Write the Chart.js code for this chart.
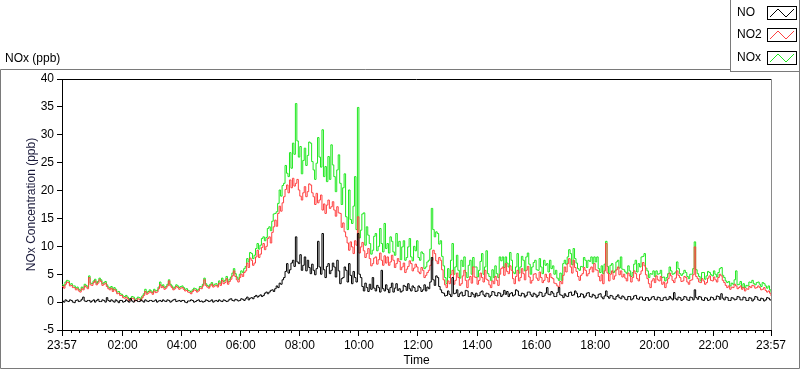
<!DOCTYPE html>
<html>
<head>
<meta charset="utf-8">
<title>NOx (ppb)</title>
<script src="https://cdn.jsdelivr.net/npm/chart.js@4.4.0/dist/chart.umd.min.js"></script>
<style>
body { margin: 0; background: #ffffff; }
</style>
</head>
<body>
<canvas id="noxchart" width="800" height="369"></canvas>
<script>

// minutes after 23:57 for the labelled ticks
var tickMinutes = [0, 123, 243, 363, 483, 603, 723, 843, 963, 1083, 1203, 1323, 1440];
var tickLabels  = ["23:57", "02:00", "04:00", "06:00", "08:00", "10:00", "12:00",
                   "14:00", "16:00", "18:00", "20:00", "22:00", "23:57"];

var seriesNames = ["NO", "NO2", "NOx"];

// one reading every 3 minutes (20 per row = one hour)
var NO = [
        0.2, 0.0, 0.4, 0.2, 0.1, 0.4, 0.3, 0.0, -0.1, 0.3, 0.4, 0.1, 0.2, 0.5, 0.9, 0.2, 0.1, 0.3, 0.3, 0.0,
        0.2, 0.4, 0.0, 0.3, 0.5, 0.1, 0.1, 0.4, 0.3, 0.0, 0.8, 0.3, 0.1, 0.4, 0.2, 0.0, 0.4, 0.2, -0.1, 0.3,
        0.3, 0.0, 0.1, 0.4, 0.2, 0.0, 0.6, 0.2, 0.0, 0.3, 0.3, 0.1, 0.1, 0.4, 0.2, 0.0, 0.4, 0.2, 0.1, 0.3,
        0.3, 0.1, 0.2, 0.4, 0.0, 0.2, 0.3, 0.1, 0.4, 0.2, 0.1, 0.4, 0.3, 0.0, 0.2, 0.4, 0.5, 0.1, 0.2, 0.3,
        0.1, 0.3, 0.3, 0.0, -0.1, 0.2, 0.2, 0.4, 0.3, 0.0, 0.1, 0.3, 0.4, 0.1, 0.2, 0.0, 0.1, 0.4, 0.3, 0.1,
        0.2, 0.4, 0.0, 0.2, 0.3, 0.1, 0.4, 0.2, 0.1, 0.4, 0.3, 0.1, 0.2, 0.5, 0.6, 0.3, 0.2, 0.5, 0.4, 0.2,
        0.3, 0.6, 0.5, 0.3, 0.6, 0.9, 0.4, 0.7, 0.8, 0.6, 1.0, 1.2, 0.9, 1.1, 1.3, 1.0, 1.2, 1.6, 1.8, 1.5,
        1.8, 2.1, 2.2, 1.9, 2.4, 2.9, 2.6, 3.4, 3.2, 4.0, 4.4, 5.5, 6.9, 5.2, 5.8, 7.0, 7.5, 6.4, 11.7, 7.2,
        6.9, 8.5, 5.7, 6.6, 8.1, 5.6, 7.5, 6.2, 5.1, 6.8, 5.7, 4.9, 6.0, 10.9, 6.3, 5.0, 12.3, 5.8, 4.4, 6.4,
        6.9, 5.1, 5.7, 7.0, 6.3, 4.5, 7.5, 5.6, 3.3, 4.2, 4.4, 6.3, 5.7, 3.6, 6.9, 4.8, 3.3, 5.5, 4.4, 3.6,
        12.3, 5.0, 4.4, 2.8, 2.0, 3.4, 2.6, 1.9, 3.2, 2.3, 4.4, 2.5, 2.0, 3.0, 2.6, 1.8, 5.7, 2.4, 2.0, 3.1,
        2.3, 1.7, 2.6, 3.4, 1.8, 2.5, 3.3, 2.1, 2.4, 1.8, 2.0, 3.0, 2.8, 2.1, 3.3, 2.4, 2.0, 2.9, 2.6, 1.9,
        2.0, 2.9, 2.6, 1.9, 2.2, 3.1, 2.0, 2.7, 2.4, 3.6, 8.0, 4.0, 3.0, 4.7, 4.4, 2.8, 2.2, 1.7, 1.6, 1.1,
        1.2, 2.0, 1.4, 1.0, 4.4, 1.5, 1.6, 2.2, 1.0, 1.5, 1.8, 1.1, 1.2, 2.1, 2.0, 1.0, 1.0, 1.7, 1.4, 0.9,
        1.6, 1.1, 1.2, 1.8, 2.0, 1.3, 1.0, 1.6, 1.5, 0.9, 1.2, 1.9, 1.8, 1.2, 1.1, 1.7, 1.6, 1.0, 1.3, 2.1,
        1.4, 1.9, 1.0, 1.5, 1.7, 1.1, 1.3, 2.2, 2.0, 1.2, 1.1, 1.6, 1.5, 0.9, 1.2, 1.8, 1.8, 1.3, 1.0, 1.6,
        1.4, 0.9, 1.2, 1.8, 1.7, 1.0, 1.1, 1.6, 2.6, 1.4, 1.3, 1.9, 1.6, 1.0, 1.0, 1.7, 2.6, 1.3, 1.2, 0.8,
        1.5, 1.1, 1.0, 1.7, 1.8, 1.2, 1.3, 2.0, 1.6, 0.9, 1.0, 1.5, 1.4, 0.8, 1.1, 1.6, 1.7, 1.0, 0.9, 1.4,
        1.2, 0.7, 0.8, 1.4, 1.5, 0.9, 0.6, 1.1, 2.0, 1.0, 0.7, 1.2, 1.1, 0.6, 0.5, 1.0, 1.3, 0.8, 0.6, 1.1,
        0.9, 0.5, 0.4, 1.0, 1.0, 0.4, 0.6, 1.1, 1.2, 0.6, 0.5, 0.9, 0.9, 0.4, 0.3, 0.8, 0.8, 0.3, 0.5, 0.9,
        1.0, 0.5, 0.4, 0.9, 0.8, 0.3, 0.3, 0.8, 0.9, 0.4, 0.5, 1.0, 0.7, 0.4, 1.7, 0.6, 0.4, 0.9, 0.8, 0.3,
        0.5, 1.0, 0.9, 0.4, 0.3, 0.9, 0.8, 0.4, 2.2, 0.8, 0.5, 1.0, 0.9, 0.4, 0.3, 0.8, 0.7, 0.3, 0.4, 0.9,
        0.8, 0.4, 0.5, 1.1, 1.0, 0.5, 1.5, 0.7, 0.4, 0.9, 0.8, 0.3, 0.3, 0.8, 0.7, 0.4, 0.5, 1.0, 0.9, 0.4,
        0.4, 0.9, 0.8, 0.3, 0.3, 0.8, 0.7, 0.2, 0.5, 1.0, 0.9, 0.4, 0.3, 0.7, 0.6, 0.2, 0.4, 0.8, 0.7, 0.4,
        0.3
];

var NO2 = [
        2.8, 2.5, 3.2, 3.6, 3.5, 2.9, 3.0, 2.6, 2.6, 2.2, 2.4, 2.0, 1.8, 2.4, 2.2, 2.9, 2.7, 2.4, 4.4, 3.1,
        3.0, 3.5, 3.8, 3.1, 3.4, 4.0, 3.7, 3.0, 3.2, 3.4, 2.8, 2.4, 2.2, 2.5, 1.9, 2.3, 2.0, 1.5, 1.6, 1.2,
        1.2, 0.8, 0.7, 0.9, 0.6, 0.3, 0.4, 0.7, 0.6, 0.2, 0.3, 0.6, 0.5, 0.3, 0.8, 1.2, 1.9, 1.4, 1.6, 1.9,
        1.7, 1.4, 2.0, 1.7, 1.8, 2.4, 3.1, 2.6, 2.8, 2.3, 2.5, 2.9, 3.8, 2.9, 2.6, 2.2, 2.4, 2.8, 2.6, 2.3,
        2.5, 2.6, 2.3, 2.0, 2.1, 1.8, 1.7, 1.5, 1.9, 2.2, 2.1, 1.8, 2.0, 2.5, 2.4, 2.9, 4.0, 3.0, 2.7, 2.5,
        2.9, 3.2, 2.7, 2.9, 3.0, 2.7, 3.4, 3.0, 3.9, 3.3, 3.5, 4.2, 3.2, 3.7, 4.1, 4.7, 5.6, 4.6, 4.0, 3.6,
        4.4, 5.0, 4.6, 5.3, 5.6, 7.0, 6.2, 7.9, 7.5, 6.6, 7.0, 8.1, 9.3, 8.0, 8.6, 9.8, 10.5, 9.4, 10.0, 11.4,
        11.7, 10.6, 12.5, 13.5, 14.7, 13.6, 15.9, 17.2, 16.3, 17.8, 18.9, 20.2, 21.0, 19.6, 21.9, 20.5, 22.2, 20.8, 21.3, 22.0,
        20.1, 19.0, 18.3, 19.6, 20.7, 18.9, 19.8, 21.2, 21.0, 19.6, 18.9, 17.5, 19.5, 17.8, 18.3, 19.2, 16.5, 17.6, 15.9, 17.4,
        18.3, 16.8, 17.1, 18.0, 16.5, 15.4, 17.1, 16.0, 15.9, 13.4, 14.2, 12.6, 11.7, 10.6, 9.3, 10.8, 9.9, 8.7, 11.0, 10.2,
        15.3, 8.8, 9.9, 10.7, 9.2, 8.0, 8.7, 9.6, 7.8, 6.5, 6.9, 7.9, 8.1, 6.8, 7.6, 8.8, 7.5, 6.6, 8.3, 7.0,
        8.1, 6.6, 7.2, 8.4, 7.5, 6.2, 6.9, 7.8, 7.3, 5.8, 6.3, 7.0, 5.3, 5.9, 6.4, 7.4, 6.9, 5.6, 6.1, 6.8,
        6.3, 5.4, 5.1, 6.2, 5.7, 4.4, 4.8, 5.3, 5.7, 6.6, 7.5, 9.3, 8.7, 7.4, 6.9, 8.0, 7.5, 5.8, 4.0, 3.1,
        2.6, 3.8, 3.3, 4.9, 5.7, 3.2, 3.9, 5.2, 4.4, 3.0, 3.3, 4.7, 5.7, 3.9, 2.6, 4.0, 4.6, 3.4, 6.3, 4.5,
        4.4, 3.2, 3.9, 5.2, 4.4, 3.6, 5.7, 4.1, 3.9, 3.1, 2.6, 3.8, 3.3, 4.6, 3.9, 3.0, 5.0, 6.0, 6.3, 4.8,
        6.9, 5.5, 5.1, 6.5, 5.7, 4.2, 3.3, 4.6, 5.7, 3.8, 4.4, 6.0, 5.1, 4.0, 5.7, 6.4, 4.5, 3.4, 3.9, 5.0,
        5.1, 4.3, 3.9, 5.4, 4.4, 3.5, 3.9, 5.0, 4.4, 3.6, 5.1, 4.4, 4.2, 3.4, 3.3, 2.9, 2.6, 3.7, 3.3, 4.8,
        6.3, 5.4, 6.9, 7.8, 6.3, 5.2, 7.5, 6.2, 5.5, 4.6, 3.9, 4.8, 5.1, 6.2, 5.7, 4.7, 5.1, 5.9, 6.3, 5.4,
        6.9, 5.8, 5.7, 4.6, 3.8, 4.9, 3.3, 5.6, 10.5, 5.2, 3.8, 5.0, 5.6, 4.1, 4.7, 5.8, 6.3, 4.9, 5.6, 4.5,
        5.0, 4.3, 3.8, 5.2, 4.7, 3.6, 4.4, 5.6, 5.1, 4.2, 3.8, 5.0, 5.6, 7.1, 6.5, 4.9, 4.2, 3.3, 2.6, 3.8,
        4.2, 3.5, 4.7, 4.0, 3.8, 4.6, 3.2, 3.6, 2.6, 3.4, 4.2, 5.2, 4.7, 3.9, 3.5, 4.3, 5.6, 4.8, 4.4, 3.7,
        3.8, 4.6, 4.4, 3.6, 3.2, 3.9, 4.0, 4.9, 9.9, 4.6, 4.2, 3.6, 3.5, 4.2, 3.8, 3.2, 3.5, 4.3, 4.7, 3.9,
        3.8, 4.5, 4.0, 3.6, 4.4, 5.0, 4.7, 3.9, 3.5, 3.0, 2.6, 2.9, 2.3, 2.7, 2.6, 3.2, 2.9, 2.4, 2.6, 2.9,
        2.3, 2.6, 2.0, 2.4, 2.3, 2.8, 2.6, 3.0, 2.9, 2.5, 2.6, 2.9, 2.6, 2.2, 2.3, 2.6, 2.1, 1.8, 2.0, 1.6,
        1.1
];

var NOx = [
        3.1, 2.9, 3.6, 3.9, 3.8, 3.2, 3.3, 2.9, 2.9, 2.5, 2.7, 2.3, 2.1, 2.7, 2.5, 3.2, 3.0, 2.7, 4.7, 3.4,
        3.3, 3.8, 4.1, 3.4, 3.7, 4.3, 4.0, 3.3, 3.5, 3.7, 3.1, 2.7, 2.5, 2.8, 2.2, 2.6, 2.3, 1.8, 1.9, 1.5,
        1.4, 1.1, 1.0, 1.2, 0.9, 0.6, 0.7, 1.0, 0.9, 0.5, 0.6, 0.9, 0.8, 0.6, 1.1, 1.5, 2.3, 1.7, 1.9, 2.2,
        2.0, 1.7, 2.3, 2.0, 2.1, 2.7, 3.6, 2.9, 3.1, 2.6, 2.8, 3.2, 4.0, 3.2, 2.9, 2.5, 2.7, 3.1, 2.9, 2.6,
        2.8, 2.9, 2.6, 2.3, 2.4, 2.1, 2.0, 1.8, 2.2, 2.5, 2.4, 2.1, 2.3, 2.8, 2.7, 3.2, 4.3, 3.3, 3.0, 2.8,
        3.2, 3.5, 3.0, 3.2, 3.3, 3.0, 3.8, 3.4, 4.3, 3.7, 3.9, 4.6, 3.6, 4.1, 4.5, 5.2, 6.0, 5.1, 4.5, 4.1,
        5.0, 5.6, 5.3, 6.0, 6.4, 7.8, 7.2, 8.9, 8.7, 7.8, 8.4, 9.6, 10.5, 9.5, 10.2, 11.4, 11.7, 11.0, 11.6, 13.2,
        13.5, 12.8, 14.5, 15.8, 15.9, 16.2, 17.7, 20.1, 19.0, 20.9, 21.3, 24.5, 23.1, 22.5, 26.8, 24.0, 28.5, 26.5, 35.6, 28.9,
        26.0, 27.9, 23.0, 25.4, 27.6, 24.5, 26.3, 28.7, 28.5, 25.2, 23.7, 22.0, 24.9, 29.5, 26.0, 24.2, 30.9, 22.5, 24.3, 21.6,
        26.1, 22.0, 28.2, 24.6, 22.5, 19.8, 23.7, 26.4, 21.3, 17.5, 20.5, 23.0, 15.3, 13.0, 20.1, 14.8, 14.1, 17.2, 22.5, 13.0,
        34.9, 11.5, 12.9, 15.8, 16.0, 10.2, 13.5, 12.0, 10.5, 8.6, 9.3, 11.8, 12.3, 9.2, 10.0, 13.2, 10.5, 9.0, 14.1, 9.6,
        10.5, 8.8, 11.7, 10.9, 9.0, 8.4, 12.3, 10.0, 10.9, 7.6, 9.9, 11.0, 7.5, 8.0, 9.9, 11.4, 8.1, 7.4, 10.0, 9.2,
        11.0, 8.0, 7.5, 9.0, 8.7, 6.0, 6.3, 7.2, 7.5, 9.5, 16.8, 13.0, 11.7, 12.6, 12.3, 10.4, 11.0, 8.2, 6.5, 4.4,
        3.3, 6.0, 4.4, 7.5, 10.5, 5.0, 6.3, 8.4, 5.7, 4.3, 7.5, 6.4, 8.1, 5.3, 4.4, 6.6, 7.5, 5.0, 8.0, 6.3,
        6.3, 4.5, 5.7, 7.3, 8.7, 5.0, 6.3, 9.2, 5.1, 4.6, 3.9, 5.8, 4.4, 6.5, 5.1, 4.4, 8.1, 7.4, 8.1, 6.2,
        8.1, 7.0, 6.3, 8.9, 7.5, 5.4, 5.1, 6.3, 8.7, 5.2, 6.3, 8.2, 7.5, 5.6, 8.1, 8.8, 6.8, 5.0, 6.3, 7.1,
        7.5, 5.8, 5.7, 7.8, 6.3, 5.1, 7.5, 6.6, 6.9, 5.4, 7.5, 6.0, 6.5, 5.0, 5.7, 4.3, 3.9, 5.2, 3.9, 6.9,
        7.5, 6.8, 8.1, 9.4, 8.7, 6.7, 9.6, 7.8, 7.0, 6.0, 5.7, 6.4, 6.3, 8.0, 7.5, 6.2, 7.5, 7.3, 8.1, 6.9,
        8.1, 7.2, 8.1, 6.0, 5.3, 6.5, 5.1, 6.8, 10.9, 6.4, 5.1, 6.6, 6.9, 5.3, 5.6, 7.2, 7.5, 6.1, 8.1, 5.9,
        5.8, 5.4, 5.1, 6.5, 5.6, 4.6, 5.3, 6.8, 7.5, 5.4, 6.9, 6.3, 8.1, 8.2, 8.7, 6.1, 5.6, 4.4, 5.1, 5.0,
        5.6, 4.6, 5.6, 5.0, 5.1, 5.7, 4.4, 4.5, 3.8, 4.4, 5.1, 6.3, 5.6, 5.0, 5.1, 5.4, 7.2, 6.0, 5.1, 4.8,
        5.1, 5.7, 5.3, 4.6, 4.2, 5.0, 5.0, 6.0, 10.8, 5.8, 5.1, 4.6, 3.8, 5.3, 5.3, 4.1, 4.7, 5.5, 5.3, 4.9,
        4.7, 5.6, 5.0, 4.5, 5.3, 6.0, 6.2, 4.8, 4.4, 3.8, 3.5, 3.7, 2.9, 3.4, 3.2, 4.0, 5.6, 3.1, 3.2, 3.7,
        2.6, 3.3, 2.6, 3.0, 2.9, 3.6, 3.5, 3.9, 3.3, 3.1, 3.5, 3.6, 3.2, 2.8, 3.5, 3.3, 2.9, 2.5, 2.9, 2.2,
        1.7
];

var FONT = '"Liberation Sans Narrow", "Liberation Sans", sans-serif';
var COLORS = ["#000000", "#ff4040", "#1ee81e"];

Chart.defaults.font.family = FONT;
Chart.defaults.font.size = 12;
Chart.defaults.color = "#000000";

function points(values)
{
        var out = [];
        for (var i = 0; i < values.length; i++) {
                out.push({x: i * 3, y: values[i]});
        }
        return out;
}

// LabVIEW style frame, caption, legend box, plot border, minor ticks
var decorations = {
        id: "decorations",
        beforeDraw: function(chart) {
                var ctx = chart.ctx;
                ctx.save();
                ctx.fillStyle = "#ffffff";
                ctx.fillRect(0, 0, chart.width, chart.height);
                ctx.restore();
        },
        afterDraw: function(chart) {
                var ctx  = chart.ctx;
                var area = chart.chartArea;
                var xs   = chart.scales.x;

                ctx.save();
                ctx.lineWidth = 1;

                // outer frame
                ctx.strokeStyle = "#7a7a7a";
                ctx.beginPath();
                ctx.moveTo(730, 69.5);
                ctx.lineTo(0.5, 69.5);
                ctx.lineTo(0.5, 368.5);
                ctx.lineTo(799.5, 368.5);
                ctx.lineTo(799.5, 71.5);
                ctx.stroke();

                // plot top and right edges
                ctx.strokeStyle = "#000000";
                ctx.beginPath();
                ctx.moveTo(area.left, Math.round(area.top) + 0.5);
                ctx.lineTo(area.right, Math.round(area.top) + 0.5);
                ctx.stroke();
                ctx.strokeStyle = "#8a8a8a";
                ctx.beginPath();
                ctx.moveTo(Math.round(area.right) + 0.5, area.top);
                ctx.lineTo(Math.round(area.right) + 0.5, area.bottom);
                ctx.stroke();

                // minor ticks, 6 between each pair of labelled ticks
                ctx.strokeStyle = "#000000";
                ctx.beginPath();
                for (var t = 0; t < tickMinutes.length - 1; t++) {
                        var a = tickMinutes[t], b = tickMinutes[t + 1];
                        for (var k = 1; k < 7; k++) {
                                var px = Math.round(xs.getPixelForValue(a + (b - a) * k / 7)) + 0.5;
                                ctx.moveTo(px, area.bottom);
                                ctx.lineTo(px, area.bottom + 3);
                        }
                }
                ctx.stroke();

                // caption
                ctx.fillStyle = "#000000";
                ctx.font = "12px " + FONT;
                ctx.textAlign = "left";
                ctx.textBaseline = "middle";
                ctx.fillText("NOx (ppb)", 5, 59);

                // legend box
                ctx.strokeStyle = "#7a7a7a";
                ctx.strokeRect(730.5, -0.5, 69, 72);
                var rows = [13, 35, 58];
                for (var i = 0; i < seriesNames.length; i++) {
                        var cy = rows[i];
                        ctx.fillStyle = "#000000";
                        ctx.fillText(seriesNames[i], 737, cy);
                        ctx.fillStyle = "#ffffff";
                        ctx.fillRect(767, cy - 6, 30, 13);
                        ctx.strokeStyle = "#000000";
                        ctx.strokeRect(767.5, cy - 6.5, 29, 13);
                        ctx.strokeStyle = COLORS[i];
                        ctx.beginPath();
                        ctx.moveTo(770, cy + 4);
                        ctx.lineTo(778, cy - 4);
                        ctx.lineTo(786, cy + 4);
                        ctx.lineTo(794, cy - 4);
                        ctx.stroke();
                }
                ctx.restore();
        }
};

var datasets = [];
var allValues = [NO, NO2, NOx];
for (var s = 0; s < seriesNames.length; s++) {
        datasets.push({
                label: seriesNames[s],
                data: points(allValues[s]),
                borderColor: COLORS[s],
                borderWidth: 1,
                pointRadius: 0,
                stepped: true,
                fill: false
        });
}

var NoxChart = new Chart(document.getElementById("noxchart"), {
        type: "line",
        data: { datasets: datasets },
        options: {
                responsive: false,
                animation: false,
                events: [],
                layout: { padding: { left: 1, top: 79, right: 29, bottom: 1 } },
                plugins: {
                        legend: { display: false },
                        tooltip: { enabled: false }
                },
                scales: {
                        x: {
                                type: "linear",
                                min: 0,
                                max: 1440,
                                afterBuildTicks: function(scale) {
                                        scale.ticks = tickMinutes.map(function(v) { return {value: v}; });
                                },
                                afterFit: function(scale) { scale.height = 38; },
                                ticks: {
                                        autoSkip: false,
                                        maxRotation: 0,
                                        padding: 2,
                                        color: "#000000",
                                        callback: function(value, index) { return tickLabels[index]; }
                                },
                                grid: { drawOnChartArea: false, tickLength: 6, color: "#000000" },
                                border: { color: "#000000" },
                                title: { display: true, text: "Time", color: "#000000", padding: 0 }
                        },
                        y: {
                                min: -5,
                                max: 40,
                                afterFit: function(scale) { scale.width = 61; },
                                ticks: { stepSize: 5, padding: 3, color: "#000000" },
                                grid: { drawOnChartArea: false, tickLength: 5, color: "#000000" },
                                border: { color: "#000000" },
                                title: {
                                        display: true,
                                        text: "NOx Concentration (ppb)",
                                        color: "#1a1a3a",
                                        padding: { top: 23, bottom: 0 }
                                }
                        }
                }
        },
        plugins: [decorations]
});

</script>
</body>
</html>
